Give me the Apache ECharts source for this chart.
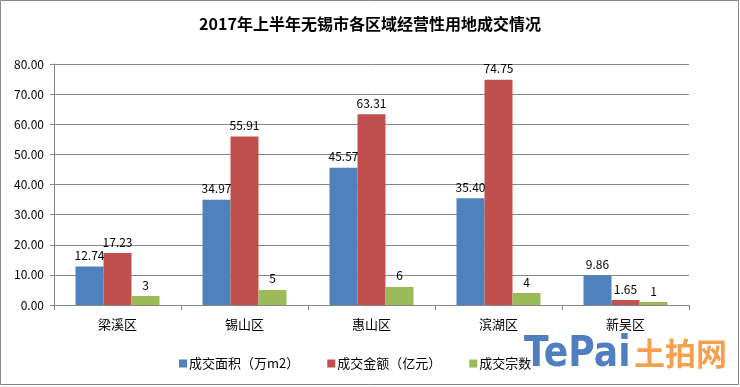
<!DOCTYPE html>
<html>
<head>
<meta charset="utf-8">
<script src="https://cdn.jsdelivr.net/npm/echarts@6/dist/echarts.min.js"></script>
<style>html,body{margin:0;padding:0;background:#fff;}#c{width:740px;height:387px;}</style>
</head>
<body>
<div id="c"></div>
<script>
const titleText = '2017年上半年无锡市各区域经营性用地成交情况';
const categories = ['梁溪区', '锡山区', '惠山区', '滨湖区', '新吴区'];
const seriesNames = ['成交面积（万m2）', '成交金额（亿元）', '成交宗数'];
const area = [12.74, 34.97, 45.57, 35.40, 9.86];
const amount = [17.23, 55.91, 63.31, 74.75, 1.65];
const count = [3, 5, 6, 4, 1];
const yTicks = { min: 0, max: 80, interval: 10 };

const colors = ['#4F81BD', '#C0504D', '#9BBB59'];
const FONT = '"Noto Sans CJK SC", "Noto Sans", sans-serif';

const chart = echarts.init(document.getElementById('c'), null, { renderer: 'canvas' });
function mk(name, data, color, decimals) {
  return {
    name: name, type: 'bar', data: data, barWidth: 28, barGap: '0%',
    itemStyle: { color: color },
    label: {
      show: true, position: 'top', distance: 5, color: '#000', fontSize: 12, fontFamily: FONT,
      formatter: p => decimals ? Number(p.value).toFixed(2) : String(p.value)
    }
  };
}
chart.setOption({
  animation: false,
  backgroundColor: '#fff',
  color: colors,
  title: {
    text: titleText, left: 'center', top: 11,
    textStyle: { fontSize: 16, fontWeight: 'bold', color: '#000', fontFamily: FONT }
  },
  grid: { left: 54, right: 51, top: 64, bottom: 82, containLabel: false },
  legend: {
    left: 174, top: 352, itemWidth: 8, itemHeight: 8, itemGap: 28, icon: 'rect',
    data: seriesNames,
    textStyle: { fontSize: 13, color: '#000', fontFamily: FONT, padding: [0, 0, 0, -3] }
  },
  xAxis: {
    type: 'category', data: categories, boundaryGap: true,
    axisLine: { lineStyle: { color: '#868686', width: 1 } },
    axisTick: { show: true, alignWithLabel: false, length: 5, lineStyle: { color: '#868686' } },
    axisLabel: { color: '#000', fontSize: 13, fontFamily: FONT, margin: 13 }
  },
  yAxis: {
    type: 'value', min: yTicks.min, max: yTicks.max, interval: yTicks.interval,
    axisLine: { show: true, lineStyle: { color: '#868686' } },
    axisTick: { show: true, length: 4, lineStyle: { color: '#868686' } },
    splitLine: { lineStyle: { color: '#868686', width: 1 } },
    axisLabel: { color: '#000', fontSize: 12, fontFamily: FONT, margin: 10, formatter: v => v.toFixed(2) }
  },
  series: [
    mk(seriesNames[0], area, colors[0], true),
    mk(seriesNames[1], amount, colors[1], true),
    mk(seriesNames[2], count, colors[2], false)
  ],
  graphic: [
    { type: 'rect', shape: { x: 0.5, y: 0.5, width: 738, height: 384 }, style: { fill: 'none', stroke: '#888', lineWidth: 1 }, silent: true, z: 100 },
    { type: 'text', x: 524, y: 333, scaleX: 0.84, style: { text: 'TePai', fill: '#4f7fc0', font: 'bold 43px "DejaVu Sans", sans-serif' }, z: 101 },
    { type: 'text', x: 634, y: 338, style: { text: '土拍网', fill: '#f5a04f', font: 'bold 31px "Noto Sans CJK SC", sans-serif' }, z: 101 }
  ]
});
</script>
</body>
</html>
